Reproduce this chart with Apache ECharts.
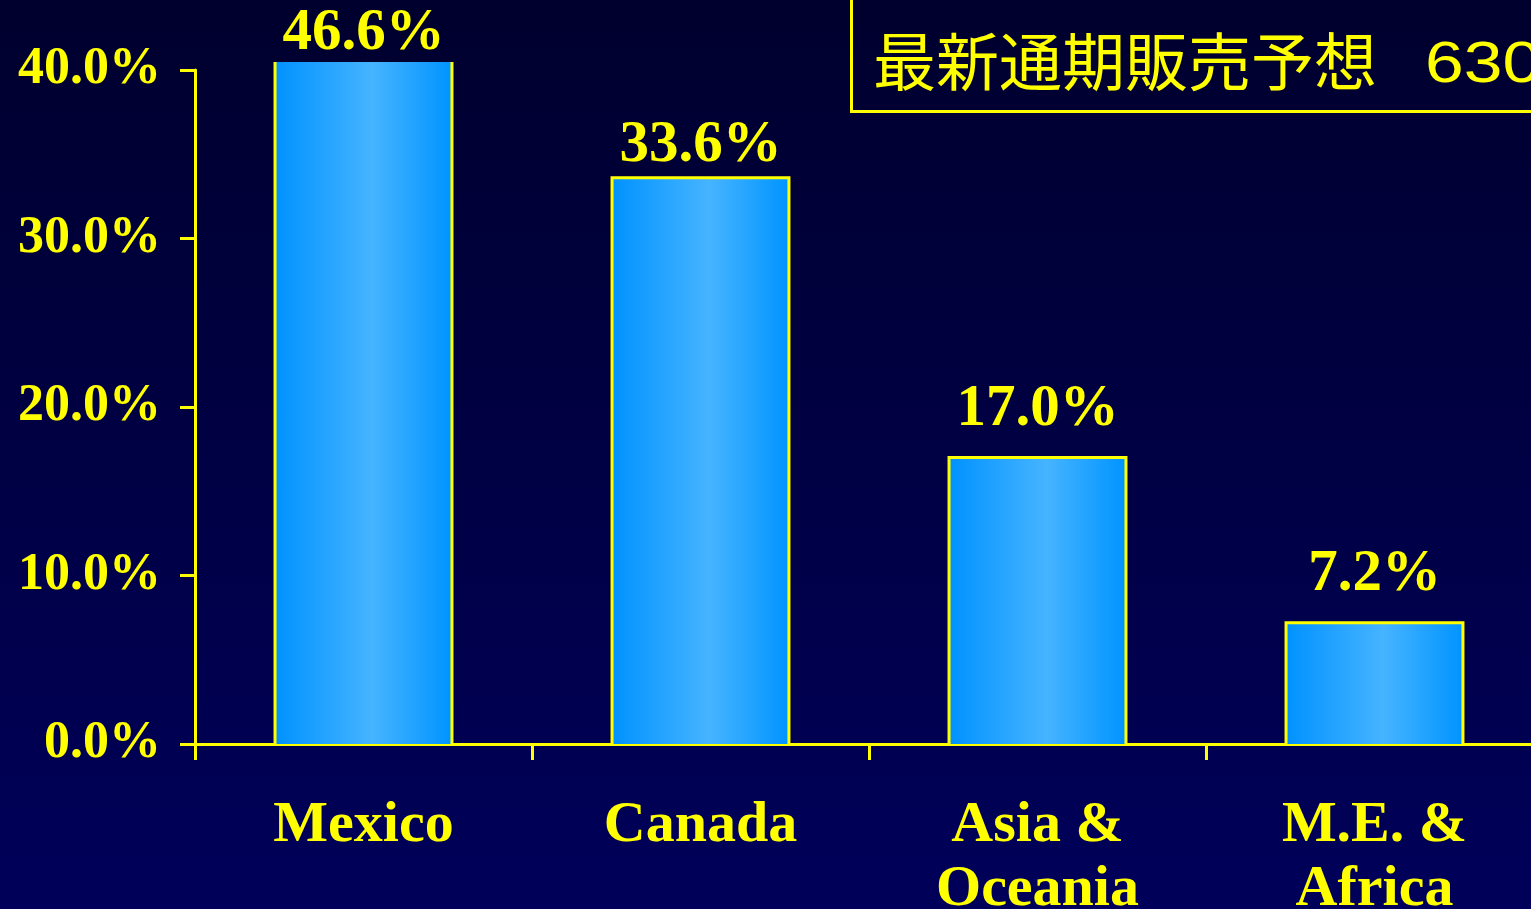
<!DOCTYPE html>
<html>
<head>
<meta charset="utf-8">
<script src="https://cdn.jsdelivr.net/npm/echarts@6/dist/echarts.min.js"></script>
<style>
html,body{margin:0;padding:0;background:#00003a;}
#chart{width:1531px;height:909px;}
</style>
</head>
<body>
<div id="chart"></div>
<script>
const categories = ['Mexico', 'Canada', 'Asia &\nOceania', 'M.E. &\nAfrica'];
const shares = [46.6, 33.6, 17.0, 7.2];
const yTicks = [0, 10, 20, 30, 40];
const titleText = '最新通期販売予想';
const titleNumber = '630';

const YEL = '#FFFF00';
const labelDistance = [-1, 3, 18, 18];
const axisMax = 40;
const plotTop = 70, barTop = 62, plotBottom = 165;
const plotHeight = 909 - plotTop - plotBottom;
const barAxisMax = axisMax * (909 - barTop - plotBottom) / plotHeight;

const chart = echarts.init(document.getElementById('chart'), null, {renderer: 'canvas'});
const serif = 'Liberation Serif';

const option = {
  animation: false,
  backgroundColor: {
    type: 'linear', x: 0, y: 0, x2: 0, y2: 1,
    colorStops: [{offset: 0, color: '#00002E'}, {offset: 1, color: '#00005A'}]
  },
  grid: [
    {left: 195, right: -12, top: plotTop, bottom: plotBottom, outerBoundsMode: 'none', containLabel: false},
    {left: 195, right: -12, top: barTop, bottom: plotBottom, outerBoundsMode: 'none', containLabel: false}
  ],
  xAxis: [
    {
      gridIndex: 0, type: 'category', data: categories, boundaryGap: true,
      axisLine: {show: true, lineStyle: {color: YEL, width: 3}},
      axisTick: {show: true, length: 16, lineStyle: {color: YEL, width: 3}},
      axisLabel: {
        interval: 0, color: YEL, fontFamily: serif, fontWeight: 'bold',
        fontSize: 58, lineHeight: 64, margin: 50
      },
      splitLine: {show: false}
    },
    {gridIndex: 1, type: 'category', data: categories, show: false}
  ],
  yAxis: [
    {
      gridIndex: 0, type: 'value', min: yTicks[0], max: yTicks[yTicks.length - 1], interval: yTicks[1] - yTicks[0],
      axisLine: {show: true, lineStyle: {color: YEL, width: 3}},
      axisTick: {show: true, length: 15, lineStyle: {color: YEL, width: 3}},
      axisLabel: {
        color: YEL, fontFamily: serif, fontWeight: 'bold', fontSize: 52, margin: 34,
        formatter: v => v.toFixed(1) + '%'
      },
      splitLine: {show: false}
    },
    {gridIndex: 1, type: 'value', min: 0, max: barAxisMax, show: false}
  ],
  series: [
    {
      type: 'bar', xAxisIndex: 1, yAxisIndex: 1, barWidth: '52.5%', clip: true, z: 3,
      itemStyle: {
        borderWidth: 0,
        color: {
          type: 'linear', x: 0, y: 0, x2: 1, y2: 0,
          colorStops: [
            {offset: 0, color: '#0092FF'},
            {offset: 0.55, color: '#46B4FF'},
            {offset: 1, color: '#0094FF'}
          ]
        }
      },
      label: {
        show: true, position: 'top', color: YEL, fontFamily: serif, fontWeight: 'bold', fontSize: 59,
        formatter: p => p.value.toFixed(1) + '%'
      },
      data: shares.map((v, i) => ({value: v, label: {distance: labelDistance[i]}}))
    },
    {
      type: 'custom', xAxisIndex: 1, yAxisIndex: 1, clip: true, z: 4,
      encode: {x: 0, y: 1},
      data: shares.map((v, i) => [i, v]),
      renderItem: (params, api) => {
        const base = api.coord([api.value(0), 0]);
        const top = api.coord([api.value(0), api.value(1)]);
        const half = api.size([1, 0])[0] * 0.525 / 2;
        return {
          type: 'polyline',
          shape: {points: [[base[0] - half, base[1]], [base[0] - half, top[1]], [base[0] + half, top[1]], [base[0] + half, base[1]]]},
          style: {stroke: YEL, lineWidth: 3, fill: null}
        };
      }
    }
  ],
  graphic: [
    {
      type: 'rect', left: 849, top: -12, z: 10,
      shape: {width: 800, height: 121},
      style: {fill: null, stroke: YEL, lineWidth: 3}
    },
    {
      type: 'text', left: 873, top: 30, z: 10,
      style: {text: titleText, fill: YEL, font: 'normal 63px "Noto Sans CJK JP"'}
    },
    {
      type: 'text', left: 1425, top: 37, z: 10, scaleX: 1.2,
      style: {text: titleNumber, fill: YEL, font: 'normal 58px "Liberation Sans"'}
    }
  ]
};
chart.setOption(option);
</script>
</body>
</html>
